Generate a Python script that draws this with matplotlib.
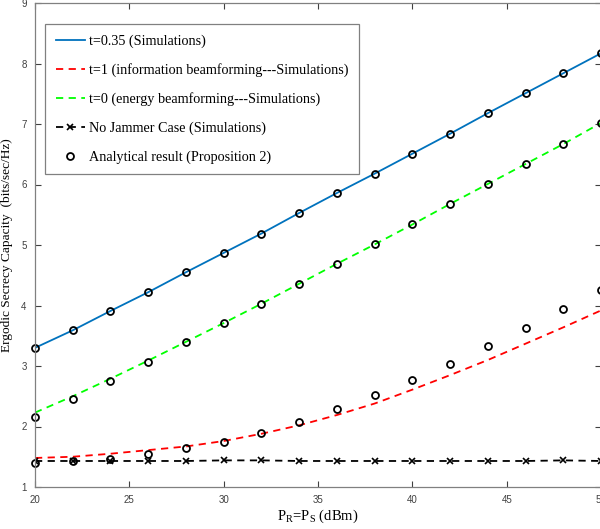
import matplotlib
matplotlib.use("Agg")
import matplotlib.pyplot as plt
from matplotlib.lines import Line2D

x = [20, 22, 24, 26, 28, 30, 32, 34, 36, 38, 40, 42, 44, 46, 48, 50]

t035_sim = [3.30, 3.59, 3.91, 4.22, 4.55, 4.87, 5.19, 5.53, 5.86, 6.18, 6.51, 6.84, 7.18, 7.51, 7.84, 8.17]
t1_sim = [1.48, 1.50, 1.55, 1.61, 1.67, 1.76, 1.88, 2.02, 2.19, 2.38, 2.61, 2.85, 3.10, 3.37, 3.64, 3.92]
t0_sim = [2.23, 2.50, 2.79, 3.09, 3.40, 3.71, 4.03, 4.36, 4.69, 5.01, 5.34, 5.68, 6.01, 6.34, 6.67, 7.02]
nojam_sim = [1.43, 1.43, 1.43, 1.43, 1.43, 1.44, 1.44, 1.43, 1.43, 1.43, 1.43, 1.43, 1.43, 1.43, 1.44, 1.43]

t035_ana = [3.30, 3.59, 3.91, 4.22, 4.55, 4.87, 5.19, 5.53, 5.86, 6.18, 6.51, 6.84, 7.18, 7.51, 7.84, 8.17]
t0_ana = [2.15, 2.45, 2.76, 3.06, 3.39, 3.71, 4.03, 4.36, 4.69, 5.01, 5.35, 5.68, 6.01, 6.34, 6.67, 7.01]
t1_ana = [1.40, 1.43, 1.47, 1.54, 1.64, 1.75, 1.89, 2.08, 2.29, 2.52, 2.77, 3.04, 3.33, 3.63, 3.94, 4.26]

labels = ["t=0.35 (Simulations)",
          "t=1 (information beamforming---Simulations)",
          "t=0 (energy beamforming---Simulations)",
          "No Jammer Case (Simulations)",
          "Analytical result (Proposition 2)"]

xticks = [20, 25, 30, 35, 40, 45, 50]
yticks = [1, 2, 3, 4, 5, 6, 7, 8, 9]

serif = ["Liberation Serif", "DejaVu Serif"]
sans = ["Liberation Sans", "DejaVu Sans"]

fig = plt.figure(figsize=(6.0, 5.29), dpi=100)
ax = fig.add_axes([35/600, 1 - 487/529, 565/600 + 0.002, 484/529])

ax.plot(x, t035_sim, color="#0072BD", lw=1.3, ls="-")
ax.plot(x, t1_sim, color="#FF0000", lw=1.3, ls=(0, (4, 3)))
ax.plot(x, t0_sim, color="#00FF00", lw=1.3, ls=(0, (4, 3)))
ax.plot(x, nojam_sim, color="black", lw=1.3, ls=(0, (4, 3)), marker="x", ms=4, mew=1.2)
for series in (t035_ana, t0_ana, t1_ana):
    ax.plot(x, series, ls="none", marker="o", ms=5, mfc="none", mec="black", mew=1.3, clip_on=False)

ax.set_xlim(20, 50)
ax.set_ylim(1, 9)
ax.set_xticks(xticks)
ax.set_yticks(yticks)
ax.tick_params(direction="in", top=True, right=True, length=4, width=0.8,
               colors="#404040", labelsize=7, pad=6)
for lab in ax.get_xticklabels() + ax.get_yticklabels():
    lab.set_family(sans)
for sp in ax.spines.values():
    sp.set_color("#808080")
    sp.set_linewidth(0.9)

ax.set_xlabel(r"P$_\mathregular{R}$=P$_\mathregular{S}$ (dBm)", family=serif, fontsize=10.5, labelpad=2)
ax.set_ylabel("Ergodic Secrecy Capacity  (bits/sec/Hz)", family=serif, fontsize=9.6, labelpad=6)

handles = [
    Line2D([], [], color="#0072BD", lw=1.3, ls="-"),
    Line2D([], [], color="#FF0000", lw=1.3, ls=(0, (4, 3))),
    Line2D([], [], color="#00FF00", lw=1.3, ls=(0, (4, 3))),
    Line2D([], [], color="black", lw=1.3, ls=(0, (4, 3)), marker="x", ms=4, mew=1.2),
    Line2D([], [], ls="none", marker="o", ms=5, mfc="none", mec="black", mew=1.3),
]
leg = ax.legend(handles, labels, loc="upper left", bbox_to_anchor=(0.0177, 0.9565),
                borderaxespad=0, prop={"family": serif, "size": 10.2},
                handlelength=2.05, handletextpad=0.28, labelspacing=1.07,
                borderpad=0.75, fancybox=False, framealpha=1, edgecolor="#808080")
leg.get_frame().set_linewidth(0.9)

fig.savefig("out.png", dpi=100)
